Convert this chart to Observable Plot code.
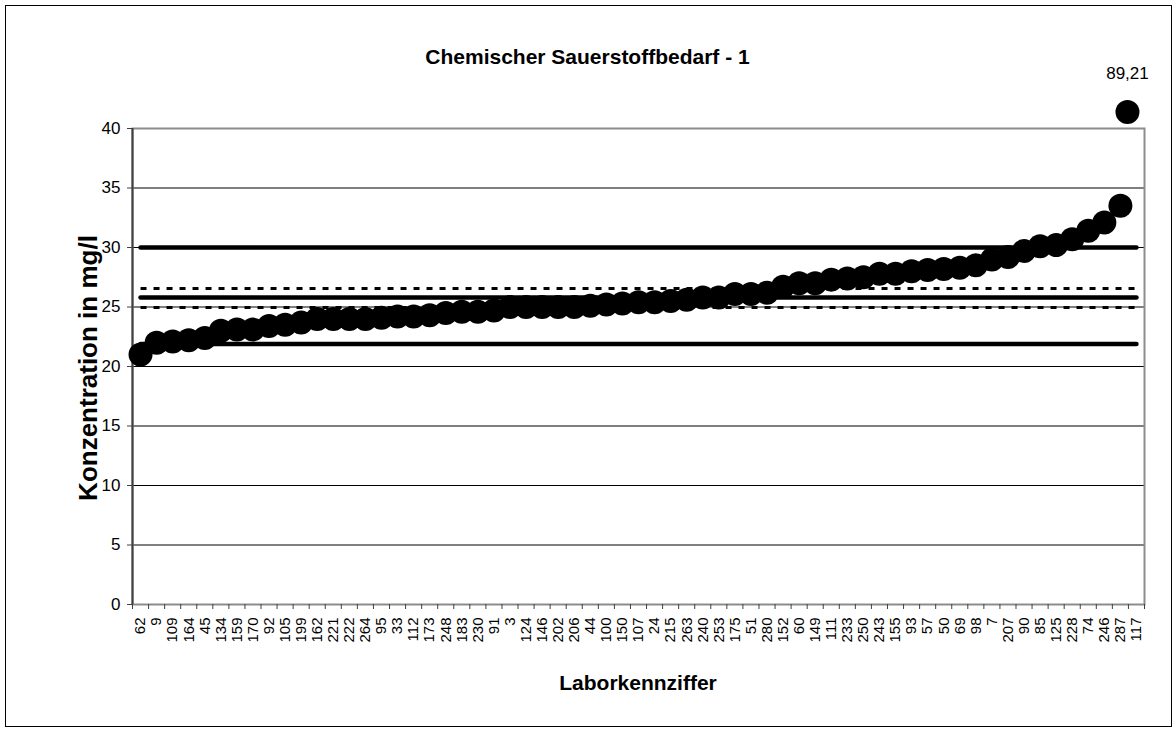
<!DOCTYPE html>
<html><head><meta charset="utf-8">
<script src="https://cdn.jsdelivr.net/npm/d3@7"></script>
<script src="https://cdn.jsdelivr.net/npm/@observablehq/plot@0.6"></script>
<style>
body{margin:0;background:#fff;font-family:"Liberation Sans",Arial,sans-serif;}
#wrap{position:relative;width:1175px;height:731px;overflow:hidden;}
#frame{position:absolute;left:5px;top:5px;width:1167px;height:722px;border:1px solid #000;box-sizing:border-box;pointer-events:none;}
#title{position:absolute;left:0;width:1175px;top:45px;text-align:center;font-weight:bold;font-size:21px;}
#xtitle{position:absolute;left:132px;width:1012px;top:671px;text-align:center;font-weight:bold;font-size:21px;}
#ytitle{position:absolute;left:88px;top:368px;transform:translate(-50%,-50%) rotate(-90deg);white-space:nowrap;font-weight:bold;font-size:26px;}
#chart{position:absolute;left:0;top:0;}
</style>
</head><body>
<div id="wrap">
  <div id="chart"></div>
  <div id="title">Chemischer Sauerstoffbedarf - 1</div>
  <div id="xtitle">Laborkennziffer</div>
  <div id="ytitle">Konzentration in mg/l</div>
  <div id="frame"></div>
</div>
<script>
const labs = ["62","9","109","164","45","134","159","170","92","105","199","162","221","222","264","95","33","112","173","248","183","230","91","3","124","146","202","206","44","100","150","107","24","215","263","240","253","175","51","280","152","60","149","111","233","250","243","155","93","57","50","69","98","7","207","90","85","125","228","74","246","287","117"];
const values = [21.0,22.0,22.1,22.2,22.4,23.0,23.1,23.1,23.4,23.5,23.7,24.0,24.0,24.0,24.0,24.1,24.2,24.2,24.3,24.5,24.6,24.6,24.7,25.0,25.0,25.0,25.0,25.0,25.1,25.2,25.3,25.4,25.4,25.5,25.6,25.8,25.8,26.1,26.1,26.2,26.7,27.0,27.0,27.3,27.4,27.5,27.8,27.8,28.0,28.1,28.2,28.3,28.5,29.0,29.2,29.7,30.1,30.2,30.7,31.4,32.1,33.5,89.21];
const upperLimit = 30.0;
const lowerLimit = 21.9;
const meanValue = 25.8;
const ciUpper = 26.55;
const ciLower = 24.95;
const yTicks = [0,5,10,15,20,25,30,35,40];
const yMax = 40;

const n = labs.length;
const idx = labs.map((_, i) => i);
const bounds = d3.range(n + 1).map(i => i - 0.5);
const pts = idx.filter(i => values[i] <= yMax).map(i => ({i, v: values[i]}));
const outl = idx.filter(i => values[i] > yMax).map(i => ({i, v: values[i], top: yMax, label: String(values[i]).replace(".", ",")}));
const solidRefs = [upperLimit, meanValue, lowerLimit].flatMap((v, k) => [{i: 0, v, k}, {i: n - 1, v, k}]);
const dashRefs = [ciUpper, ciLower].flatMap((v, k) => [{i: 0, v, k}, {i: n - 1, v, k}]);

const chart = Plot.plot({
  width: 1175, height: 731,
  marginLeft: 132, marginRight: 31, marginTop: 128, marginBottom: 127,
  x: {type: "linear", domain: [-0.5, n - 0.5]},
  y: {domain: [0, yMax]},
  style: {fontFamily: "'Liberation Sans', Arial, sans-serif", fontSize: "15px", color: "#000", background: "transparent", overflow: "visible"},
  marks: [
    Plot.gridY(yTicks.filter(t => t > 0 && t < yMax), {stroke: "#000", strokeOpacity: 1, strokeWidth: 1}),
    Plot.frame({stroke: "#8c8c8c", strokeWidth: 2}),
    Plot.ruleX([-0.5], {stroke: "#404040", strokeWidth: 2}),
    Plot.axisY({ticks: yTicks, tickSize: 5, tickPadding: 7, label: null, stroke: "#404040", fontSize: 17}),
    Plot.axisX({ticks: bounds, tickSize: 5, tickFormat: () => "", label: null, stroke: "#404040"}),
    Plot.axisX({ticks: idx, tickSize: 0, tickPadding: 13, tickFormat: i => labs[i], tickRotate: -90, label: null, fontSize: 15}),
    Plot.line(solidRefs, {x: "i", y: "v", z: "k", stroke: "#000", strokeWidth: 4.5, strokeLinecap: "round"}),
    Plot.line(dashRefs, {x: "i", y: "v", z: "k", stroke: "#000", strokeWidth: 3, strokeDasharray: "6,7", strokeLinecap: "butt"}),
    Plot.dot(pts, {x: "i", y: "v", r: 12, fill: "#000"}),
    Plot.dot(outl, {x: "i", y: "top", r: 12, fill: "#000", dx: -9, dy: -16.6}),
    Plot.text(outl, {x: "i", y: "top", text: "label", dx: -9, dy: -55, fontSize: 17, fill: "#000"})
  ]
});
document.getElementById("chart").appendChild(chart);
</script>
</body></html>
